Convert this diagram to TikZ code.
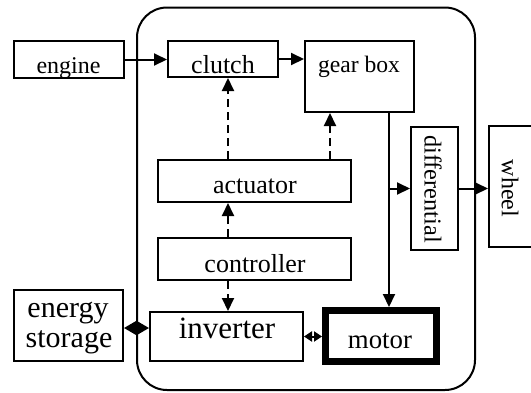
\documentclass[tikz,border=0pt]{standalone}
\usepackage{fontspec}
\setmainfont{Liberation Serif}
\usetikzlibrary{arrows.meta,calc}

\tikzset{
  box/.style={draw, line width=2pt, inner sep=0pt, fill=white},
  lbl/.style={inner sep=0pt, anchor=base},
  flow/.style={line width=2pt, -{Triangle[length=13pt,width=12pt]}},
  ctrl/.style={flow, dash pattern=on 8pt off 5pt},
  bidir/.style={line width=2pt, {Triangle[length=12.5pt,width=14pt]}-{Triangle[length=12.5pt,width=14pt]}},
  smallbidir/.style={line width=2pt, {Triangle[length=8pt,width=10pt]}-{Triangle[length=8pt,width=10pt]}},
}
\newcommand{\fs}[1]{\fontsize{#1}{#1}\selectfont}

\begin{document}
\begin{tikzpicture}[x=1pt, y=-1pt]
\useasboundingbox (0,0) rectangle (531,392);

% hybrid drive housing
\draw[line width=2pt, rounded corners=30pt] (137,7.5) rectangle (475,390);

% component boxes
\node[box, minimum width=110pt, minimum height=37pt] (engine) at (69,59.5) {};
\node[box, minimum width=110pt, minimum height=36pt] (clutch) at (223,59) {};
\node[box, minimum width=109pt, minimum height=71pt] (gearbox) at (359.5,76.5) {};
\node[box, minimum width=193pt, minimum height=42pt] (actuator) at (254.5,181) {};
\node[box, minimum width=193pt, minimum height=42pt] (controller) at (254.5,259) {};
\node[box, minimum width=153pt, minimum height=49pt] (inverter) at (226.5,336.5) {};
\node[box, minimum width=109pt, minimum height=71pt] (storage) at (68.5,325.5) {};
\node[box, line width=7pt, minimum width=111pt, minimum height=51pt] (motor) at (381,336) {};
\node[box, minimum width=47pt, minimum height=123pt] (diff) at (434.5,188.5) {};
\node[box, minimum width=54pt, minimum height=121pt] (wheel) at (516,186.5) {};

% labels
\node[lbl, font=\fs{24}] (tengine) at (68.5,73) {engine};
\node[lbl, font=\fs{26}] (tclutch) at (223,73) {clutch};
\node[lbl, font=\fs{23.6}] (tgear) at (359,72) {gear box};
\node[lbl, font=\fs{26}] (tact) at (255,193) {actuator};
\node[lbl, font=\fs{26}] (tctrl) at (255,272) {controller};
\node[lbl, font=\fs{31}] (tinv) at (227,338) {inverter};
\node[lbl, font=\fs{26.8}] (tmotor) at (380,348) {motor};
\node[lbl, font=\fs{30}] (tenergy) at (68,317) {energy};
\node[lbl, font=\fs{30}] (tstore) at (69,347) {storage};
\node[inner sep=0pt, rotate=-90, font=\fs{24.3}] (tdiff) at (433,189) {differential};
\node[inner sep=0pt, rotate=-90, font=\fs{24}] (twheel) at (510,188.5) {wheel};

% guide positions for the connectors
\coordinate (cx) at (228,0);
\coordinate (gx) at (330,0);
\coordinate (mx) at (389,0);
\coordinate (ey) at (0,328);

% mechanical path
\draw[flow] (engine.east) -- (engine.east -| clutch.west);
\draw[flow] (clutch.east) -- (clutch.east -| gearbox.west);
\draw[flow] (mx |- gearbox.south) -- (mx |- motor.north);
\draw[flow] (mx |- diff.west) -- (diff.west);
\draw[flow] (diff.east) -- (diff.east -| wheel.west);

% control signals
\draw[ctrl] (cx |- actuator.north) -- (cx |- clutch.south);
\draw[ctrl] (gx |- actuator.north) -- (gx |- gearbox.south);
\draw[ctrl] (cx |- controller.north) -- (cx |- actuator.south);
\draw[ctrl] (cx |- controller.south) -- (cx |- inverter.north);

% electrical power
\draw[bidir] (storage.east |- ey) -- (inverter.west |- ey);
\draw[smallbidir] (inverter.east) -- (inverter.east -| motor.west);
\end{tikzpicture}
\end{document}
